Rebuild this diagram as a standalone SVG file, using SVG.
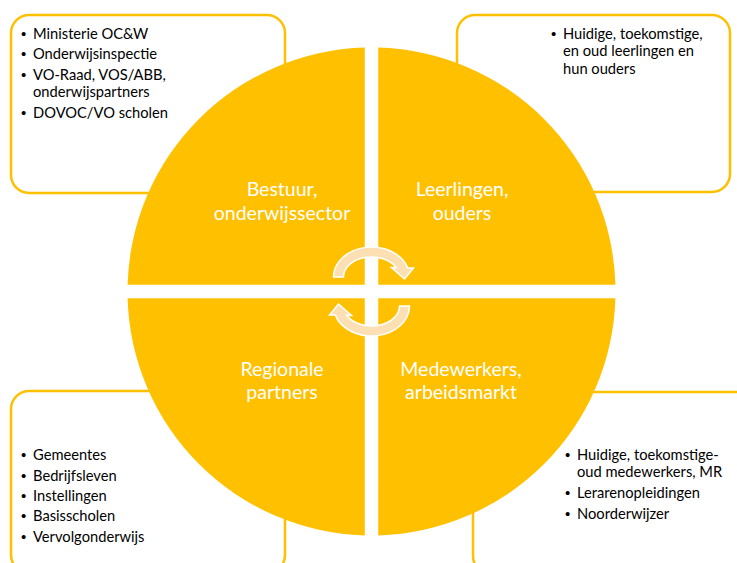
<svg xmlns="http://www.w3.org/2000/svg" width="737" height="563" viewBox="0 0 737 563">
  <style>
    .box { fill: #ffffff; stroke: #FFC000; stroke-width: 2.5; }
    .quad { fill: #FFC000; }
    .item { font-family: Lato, "Liberation Sans", sans-serif; font-size: 14.7px; fill: #000000; }
    .bul { font-family: "Liberation Sans", sans-serif; font-size: 15px; fill: #000000; }
    .lbl { font-family: Lato, "Liberation Sans", sans-serif; font-size: 19.5px; fill: #ffffff; text-anchor: middle; }
    .arrow { fill: #FCE0B4; stroke: #ffffff; stroke-width: 1.5; stroke-linejoin: miter; }
  </style>
  <rect width="737" height="563" fill="#ffffff"/>

  <g id="box-bestuur">
    <rect class="box" x="11" y="15" width="274" height="178" rx="18"/>
    <text class="bul" x="21" y="38.5">•</text>
    <text class="item" x="33" y="38.5">Ministerie OC&amp;W</text>
    <text class="bul" x="21" y="59">•</text>
    <text class="item" x="33" y="59">Onderwijsinspectie</text>
    <text class="bul" x="21" y="79.5">•</text>
    <text class="item"><tspan x="33" y="79.5">VO-Raad, VOS/ABB,</tspan><tspan x="33" y="97">onderwijspartners</tspan></text>
    <text class="bul" x="21" y="117.5">•</text>
    <text class="item" x="33" y="117.5">DOVOC/VO scholen</text>
  </g>

  <g id="box-leerlingen">
    <rect class="box" x="457" y="15" width="273" height="177" rx="18"/>
    <text class="bul" x="551" y="38.5">•</text>
    <text class="item"><tspan x="563" y="38.5">Huidige, toekomstige,</tspan><tspan x="563" y="56">en oud leerlingen en</tspan><tspan x="563" y="73.5">hun ouders</tspan></text>
  </g>

  <g id="box-regionaal">
    <rect class="box" x="11" y="391" width="274" height="182" rx="18"/>
    <text class="bul" x="21" y="460">•</text>
    <text class="item" x="33" y="460">Gemeentes</text>
    <text class="bul" x="21" y="480.5">•</text>
    <text class="item" x="33" y="480.5">Bedrijfsleven</text>
    <text class="bul" x="21" y="501">•</text>
    <text class="item" x="33" y="501">Instellingen</text>
    <text class="bul" x="21" y="521">•</text>
    <text class="item" x="33" y="521">Basisscholen</text>
    <text class="bul" x="21" y="541.5">•</text>
    <text class="item" x="33" y="541.5">Vervolgonderwijs</text>
  </g>

  <g id="box-medewerkers">
    <rect class="box" x="473" y="392" width="282" height="182" rx="18"/>
    <text class="bul" x="565" y="460">•</text>
    <text class="item"><tspan x="577" y="460">Huidige, toekomstige-</tspan><tspan x="577" y="477">oud medewerkers, MR</tspan></text>
    <text class="bul" x="565" y="497.5">•</text>
    <text class="item" x="577" y="497.5">Lerarenopleidingen</text>
    <text class="bul" x="565" y="518.5">•</text>
    <text class="item" x="577" y="518.5">Noorderwijzer</text>
  </g>

  <g id="quad-bestuur">
    <path class="quad" d="M 364.75 284.75 V 47.6 A 244 244 0 0 0 127.6 284.75 Z"/>
    <text class="lbl"><tspan x="282" y="196">Bestuur,</tspan><tspan x="282" y="219.5">onderwijssector</tspan></text>
  </g>
  <g id="quad-leerlingen">
    <path class="quad" d="M 378.25 284.75 V 47.6 A 244 244 0 0 1 615.4 284.75 Z"/>
    <text class="lbl"><tspan x="462" y="196">Leerlingen,</tspan><tspan x="462" y="219.5">ouders</tspan></text>
  </g>
  <g id="quad-regionaal">
    <path class="quad" d="M 364.75 298.25 V 535.4 A 244 244 0 0 1 127.6 298.25 Z"/>
    <text class="lbl"><tspan x="282" y="376">Regionale</tspan><tspan x="282" y="399">partners</tspan></text>
  </g>
  <g id="quad-medewerkers">
    <path class="quad" d="M 378.25 298.25 V 535.4 A 244 244 0 0 0 615.4 298.25 Z"/>
    <text class="lbl"><tspan x="461" y="376">Medewerkers,</tspan><tspan x="461" y="399">arbeidsmarkt</tspan></text>
  </g>

  <g id="connectors">
    <path id="arrow-top" class="arrow" d="M 333.5 277 A 38 30 0 0 1 407.7 267.9 L 413.5 268 L 404.5 279 L 391.5 267.5 L 396.3 267.7 A 28 20 0 0 0 343.5 277 Z"/>
    <path id="arrow-bottom" class="arrow" transform="rotate(180 371.5 291.5)" d="M 333.5 277 A 38 30 0 0 1 407.7 267.9 L 413.5 268 L 404.5 279 L 391.5 267.5 L 396.3 267.7 A 28 20 0 0 0 343.5 277 Z"/>
  </g>
</svg>
